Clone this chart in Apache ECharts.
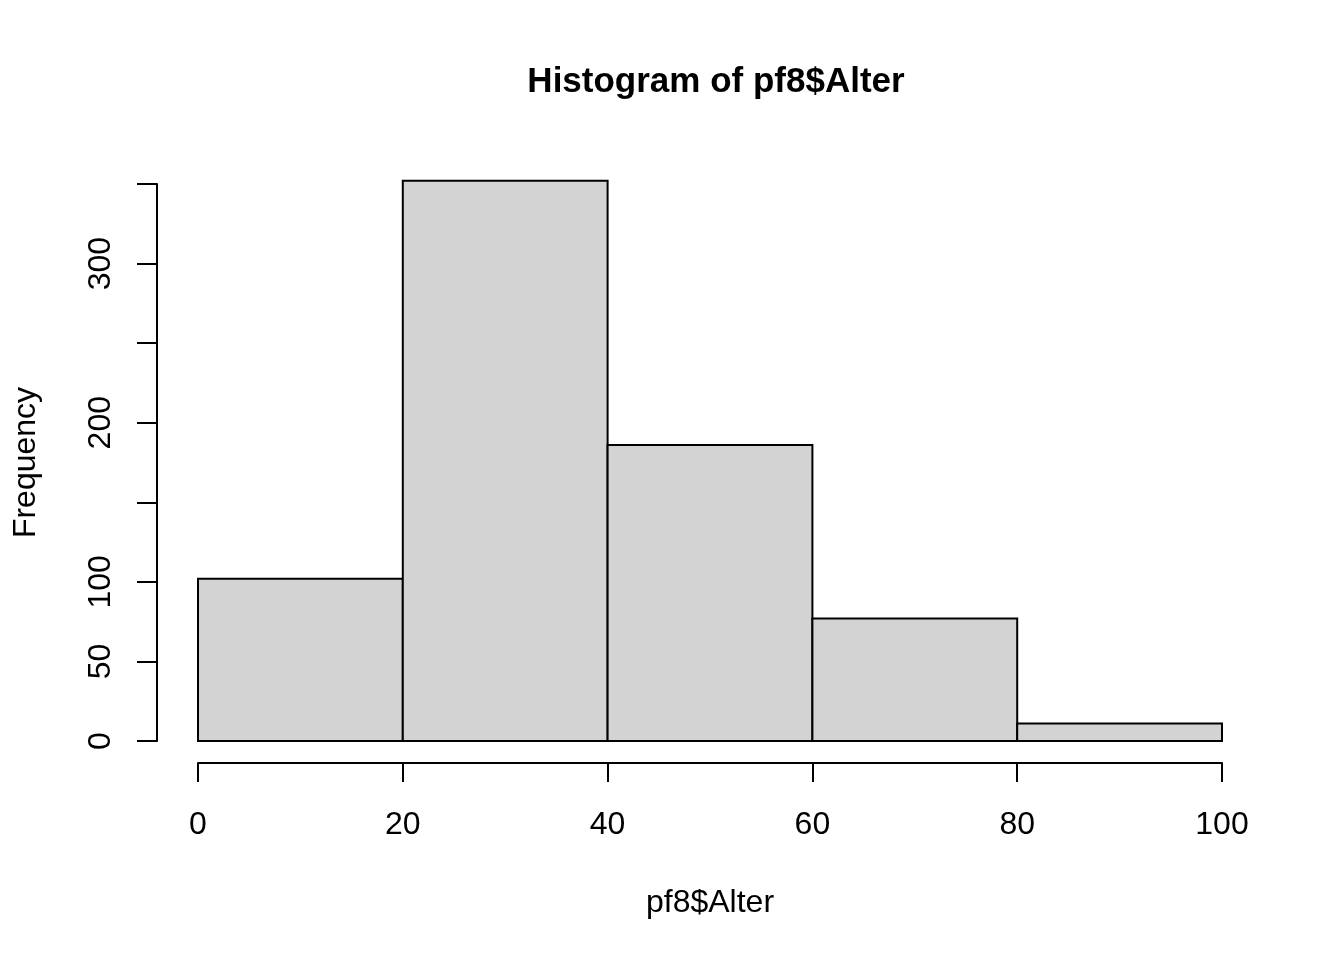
<!DOCTYPE html>
<html>
<head>
<meta charset="utf-8">
<script src="https://cdn.jsdelivr.net/npm/echarts@6/dist/echarts.min.js"></script>
<style>html,body{margin:0;padding:0;background:#fff;}#c{width:1344px;height:960px;}</style>
</head>
<body>
<div id="c"></div>
<script>
var breaks = [0, 20, 40, 60, 80, 100];
var counts = [102, 352, 186, 77, 11];
var yHiddenLabels = [150, 250, 350];
var titleText = 'Histogram of pf8$Alter';
var xName = 'pf8$Alter';
var yName = 'Frequency';

var bins = counts.map(function (c, i) { return [breaks[i], breaks[i + 1], c]; });
var FONT = '"Liberation Sans", Arial, Helvetica, sans-serif';

var chart = echarts.init(document.getElementById('c'));
chart.setOption({
  backgroundColor: '#ffffff',
  animation: false,
  title: {
    text: titleText,
    left: 711, top: 60, textAlign: 'center',
    textStyle: { fontFamily: FONT, fontSize: 35, fontWeight: 'bold', color: '#000' }
  },
  grid: { left: 198, right: 122, top: 184, bottom: 219, containLabel: false, outerBoundsMode: 'none' },
  xAxis: {
    type: 'value', min: breaks[0], max: breaks[breaks.length - 1], interval: 20,
    offset: 22,
    name: xName, nameLocation: 'middle', nameGap: 124,
    nameTextStyle: { fontFamily: FONT, fontSize: 32, color: '#000' },
    axisLine: { show: true, onZero: false, lineStyle: { color: '#000', width: 2 } },
    axisTick: { show: true, length: 19, lineStyle: { color: '#000', width: 2 } },
    axisLabel: { fontFamily: FONT, fontSize: 32, color: '#000', margin: 46 },
    splitLine: { show: false }
  },
  yAxis: {
    type: 'value', min: 0, max: 350, interval: 50,
    offset: 41,
    name: yName, nameLocation: 'middle', nameGap: 115,
    nameTextStyle: { fontFamily: FONT, fontSize: 32, color: '#000' },
    axisLine: { show: true, onZero: false, lineStyle: { color: '#000', width: 2 } },
    axisTick: { show: true, length: 20, lineStyle: { color: '#000', width: 2 } },
    axisLabel: {
      fontFamily: FONT, fontSize: 32, color: '#000', rotate: 90, margin: 40,
      formatter: function (v) { return yHiddenLabels.indexOf(v) >= 0 ? '' : String(v); }
    },
    splitLine: { show: false }
  },
  series: [{
    type: 'custom',
    clip: false,
    data: bins,
    encode: { x: [0, 1], y: 2 },
    renderItem: function (params, api) {
      var p0 = api.coord([api.value(0), 0]);
      var p1 = api.coord([api.value(1), api.value(2)]);
      return {
        type: 'rect',
        shape: { x: p0[0], y: p1[1], width: p1[0] - p0[0], height: p0[1] - p1[1] },
        style: { fill: '#d3d3d3', stroke: '#000', lineWidth: 2 }
      };
    }
  }]
});
</script>
</body>
</html>
